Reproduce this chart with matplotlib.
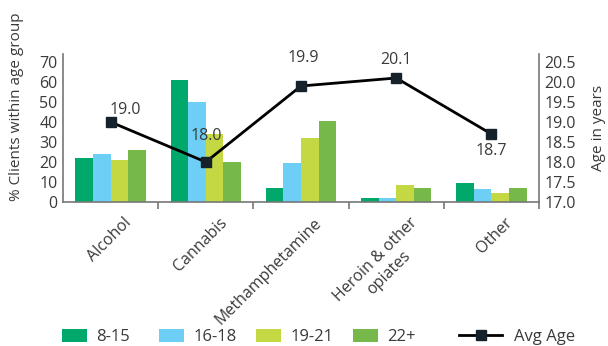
import matplotlib
matplotlib.use("Agg")
import matplotlib.pyplot as plt
import numpy as np
from matplotlib.patches import Patch
from matplotlib.lines import Line2D

plt.rcParams['font.family'] = ['Open Sans', 'DejaVu Sans']

categories = ["Alcohol", "Cannabis", "Methamphetamine", "Heroin & other\nopiates", "Other"]
age_groups = ["8-15", "16-18", "19-21", "22+"]
pct_8_15 = [22, 61, 7, 2, 9.5]
pct_16_18 = [24, 50, 19.5, 2, 6.5]
pct_19_21 = [21, 34, 32, 8.5, 4.5]
pct_22_plus = [26, 20, 40.5, 7, 7]
avg_age = [19.0, 18.0, 19.9, 20.1, 18.7]
avg_age_labels = ["19.0", "18.0", "19.9", "20.1", "18.7"]

colors = ["#00a86b", "#6dcff6", "#c3d843", "#76b84a"]
text_color = "#3a3a3a"
spine_color = "#777777"

fig = plt.figure(figsize=(6.08, 3.46), dpi=100)
ax = fig.add_axes([63/608, 1-202/346, (539-63)/608, (202-54)/346])
ax2 = ax.twinx()

x = np.arange(len(categories))
bw = 0.185
series = [pct_8_15, pct_16_18, pct_19_21, pct_22_plus]
for i, (vals, c) in enumerate(zip(series, colors)):
    ax.bar(x + (i - 1.5) * bw, vals, width=bw, color=c, linewidth=0, zorder=2)

ax.set_xlim(-0.5, len(categories) - 0.5)
ax.set_ylim(0, 74)
ax.set_yticks(np.arange(0, 71, 10))
ax2.set_ylim(17.0, 17.0 + 74 / 20)
ax2.set_yticks(np.arange(17.0, 20.51, 0.5))
ax2.set_yticklabels([f"{v:.1f}" for v in np.arange(17.0, 20.51, 0.5)])

ax2.plot(x, avg_age, color="black", lw=2, marker="s", markersize=7,
         markerfacecolor="#15212b", markeredgecolor="#15212b", zorder=5)

offsets = [(15, 12), (0, 26), (2, 28), (0, 18), (0, -17)]
for xi, yi, lab, (dx, dy) in zip(x, avg_age, avg_age_labels, offsets):
    ax2.annotate(lab, (xi, yi), xytext=(dx, dy), textcoords="offset pixels",
                 ha="center", va="center", fontsize=11.5, color=text_color)

# category separators on the x axis
ax.set_xticks(np.arange(0.5, len(categories), 1.0))
ax.set_xticklabels([])
ax.tick_params(axis="x", direction="out", length=5, color=spine_color, width=1.2)
for xi, lab in zip(x, categories):
    ax.annotate(lab, (xi, 0), xytext=(13, -13), textcoords="offset pixels",
                rotation=45, ha="right", va="top", rotation_mode="anchor",
                multialignment="center", fontsize=11.5, color=text_color,
                annotation_clip=False)

ax.tick_params(axis="y", length=0, labelsize=11.5, labelcolor=text_color, pad=4)
ax2.tick_params(axis="y", length=0, labelsize=11.5, labelcolor=text_color, pad=4)

for a in (ax, ax2):
    a.spines["top"].set_visible(False)
    for s in ("left", "right", "bottom"):
        a.spines[s].set_color(spine_color)
        a.spines[s].set_linewidth(1.2)
ax.spines["right"].set_visible(False)
ax2.spines["left"].set_visible(False)
ax2.spines["bottom"].set_visible(False)

fig.text(17/608, 1-107/346, "% Clients within age group", rotation=90,
         ha="center", va="center", fontsize=11, color=text_color)
fig.text(598/608, 1-128/346, "Age in years", rotation=90,
         ha="center", va="center", fontsize=11, color=text_color)

# legend entries, one per age group plus the line
leg_x = [62, 159, 256, 353]
for lx, lab, c in zip(leg_x, age_groups, colors):
    fig.legend(handles=[Patch(facecolor=c, edgecolor="none")], labels=[lab],
               loc="center left", bbox_to_anchor=(lx/608, 1-337/346),
               frameon=False, fontsize=12, handlelength=1.5, handleheight=0.8,
               handletextpad=0.55, borderpad=0, borderaxespad=0, labelcolor=text_color)
fig.legend(handles=[Line2D([], [], color="black", lw=2, marker="s", markersize=7,
                           markerfacecolor="#15212b", markeredgecolor="#15212b")],
           labels=["Avg Age"], loc="center left", bbox_to_anchor=(459/608, 1-337/346),
           frameon=False, fontsize=12, handlelength=2.6, handletextpad=0.7,
           borderpad=0, borderaxespad=0, labelcolor=text_color)

fig.savefig("out.png", dpi=100)
